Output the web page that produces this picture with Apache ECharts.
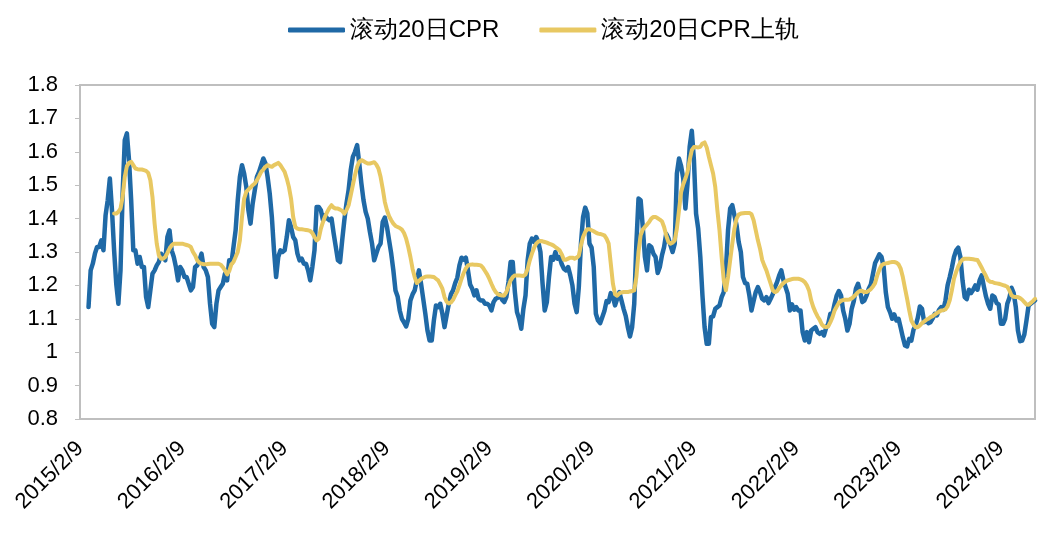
<!DOCTYPE html>
<html>
<head>
<meta charset="utf-8">
<script src="https://cdn.jsdelivr.net/npm/echarts@6/dist/echarts.min.js"></script>
<style>
html,body{margin:0;padding:0;background:#fff;}
#chart{width:1044px;height:534px;}
</style>
</head>
<body>
<div id="chart"></div>
<script>
// Tick labels shown on the x axis (yearly)
const tickLabels = ["2015/2/9","2016/2/9","2017/2/9","2018/2/9","2019/2/9","2020/2/9","2021/2/9","2022/2/9","2023/2/9","2024/2/9"];

// Weekly-ish category dates (2nd, 9th, 16th, 23rd of each month) from 2015/2/9 to 2024/6/9
const categoryDays = [2, 9, 16, 23];
const categories = [];
(function () {
  let y = 2015, m = 2, d = 1;
  while (categories.length < 449) {
    categories.push(y + "/" + m + "/" + categoryDays[d]);
    d++;
    if (d > 3) { d = 0; m++; if (m > 12) { m = 1; y++; } }
  }
})();

// 滚动20日CPR
const cprValues = [
null,null,null,null,1.135,1.245,1.265,1.295,1.315,1.315,
1.335,1.305,1.41,1.455,1.52,1.425,1.305,1.205,1.145,1.245,
1.475,1.635,1.655,1.575,1.455,1.305,1.305,1.265,1.285,1.255,
1.255,1.165,1.135,1.185,1.235,1.245,1.26,1.27,1.295,1.285,
1.275,1.345,1.365,1.305,1.285,1.255,1.215,1.255,1.245,1.225,
1.225,1.205,1.185,1.195,1.255,1.26,1.275,1.295,1.255,1.245,
1.225,1.145,1.085,1.075,1.145,1.185,1.195,1.205,1.235,1.215,
1.275,1.265,1.315,1.365,1.455,1.525,1.56,1.535,1.495,1.425,
1.385,1.445,1.485,1.525,1.54,1.56,1.58,1.565,1.525,1.475,
1.405,1.305,1.225,1.285,1.305,1.30,1.305,1.345,1.395,1.375,
1.345,1.335,1.295,1.275,1.28,1.265,1.265,1.245,1.215,1.255,
1.305,1.435,1.435,1.425,1.395,1.41,1.40,1.395,1.40,1.355,
1.315,1.275,1.27,1.335,1.395,1.445,1.485,1.545,1.585,1.60,
1.62,1.565,1.505,1.455,1.42,1.40,1.36,1.325,1.275,1.295,
1.315,1.325,1.39,1.403,1.375,1.335,1.295,1.245,1.185,1.167,
1.125,1.10,1.089,1.077,1.10,1.155,1.173,1.185,1.215,1.245,
1.205,1.16,1.115,1.065,1.035,1.035,1.095,1.14,1.135,1.145,
1.115,1.075,1.11,1.145,1.173,1.185,1.207,1.223,1.26,1.283,
1.277,1.283,1.245,1.203,1.19,1.17,1.185,1.16,1.155,1.155,
1.145,1.145,1.14,1.125,1.15,1.16,1.163,1.173,1.157,1.15,
1.165,1.21,1.27,1.27,1.18,1.12,1.10,1.07,1.13,1.17,
1.275,1.325,1.34,1.33,1.345,1.33,1.30,1.205,1.125,1.15,
1.225,1.285,1.277,1.30,1.28,1.285,1.263,1.25,1.245,1.255,
1.23,1.20,1.145,1.12,1.195,1.325,1.405,1.433,1.415,1.325,
1.313,1.255,1.115,1.095,1.087,1.105,1.123,1.153,1.15,1.177,
1.165,1.14,1.16,1.18,1.155,1.13,1.109,1.075,1.047,1.075,
1.145,1.325,1.46,1.455,1.375,1.285,1.245,1.32,1.315,1.295,
1.285,1.237,1.255,1.29,1.315,1.355,1.342,1.32,1.30,1.325,
1.535,1.58,1.557,1.52,1.43,1.505,1.615,1.663,1.575,1.415,
1.37,1.285,1.17,1.075,1.025,1.025,1.105,1.107,1.13,1.135,
1.14,1.165,1.18,1.245,1.365,1.43,1.44,1.41,1.38,1.33,
1.30,1.225,1.207,1.205,1.17,1.125,1.153,1.18,1.195,1.18,
1.16,1.155,1.165,1.147,1.16,1.174,1.195,1.21,1.23,1.245,
1.215,1.195,1.175,1.125,1.143,1.127,1.135,1.125,1.125,1.06,
1.035,1.06,1.03,1.065,1.07,1.075,1.06,1.055,1.06,1.05,
1.073,1.085,1.115,1.115,1.145,1.17,1.183,1.17,1.125,1.10,
1.065,1.085,1.13,1.153,1.19,1.205,1.18,1.15,1.155,1.17,
1.19,1.203,1.235,1.267,1.28,1.293,1.285,1.255,1.18,1.135,
1.12,1.10,1.113,1.095,1.10,1.073,1.045,1.02,1.017,1.04,
1.035,1.067,1.08,1.103,1.137,1.13,1.09,1.095,1.087,1.09,
1.101,1.115,1.11,1.127,1.135,1.127,1.155,1.20,1.225,1.253,
1.285,1.305,1.313,1.285,1.215,1.165,1.159,1.187,1.177,1.187,
1.20,1.187,1.215,1.23,1.197,1.167,1.145,1.13,1.17,1.165,
1.147,1.143,1.085,1.085,1.10,1.145,1.163,1.193,1.177,1.135,
1.065,1.033,1.035,1.053,1.095,1.14,1.145,1.15,1.155
];

// 滚动20日CPR上轨
const upperValues = [
null,null,null,null,null,null,null,null,null,null,
null,null,null,null,null,null,1.415,1.415,1.42,1.43,
1.465,1.525,1.557,1.567,1.57,1.56,1.55,1.548,1.547,1.547,
1.545,1.543,1.537,1.515,1.465,1.385,1.325,1.29,1.28,1.28,
1.285,1.297,1.31,1.32,1.325,1.325,1.325,1.325,1.325,1.323,
1.321,1.319,1.315,1.30,1.29,1.275,1.268,1.265,1.263,1.263,
1.264,1.265,1.265,1.265,1.265,1.265,1.262,1.255,1.245,1.233,
1.243,1.263,1.27,1.285,1.30,1.335,1.405,1.46,1.48,1.487,
1.493,1.50,1.505,1.515,1.527,1.54,1.547,1.555,1.56,1.557,
1.555,1.56,1.563,1.567,1.56,1.55,1.54,1.52,1.495,1.46,
1.405,1.375,1.37,1.368,1.368,1.367,1.366,1.365,1.363,1.357,
1.345,1.335,1.34,1.37,1.39,1.407,1.42,1.432,1.44,1.433,
1.43,1.43,1.427,1.423,1.415,1.425,1.44,1.47,1.50,1.53,
1.555,1.57,1.575,1.572,1.568,1.565,1.565,1.567,1.569,1.562,
1.55,1.525,1.49,1.45,1.425,1.407,1.395,1.385,1.378,1.375,
1.372,1.367,1.357,1.34,1.315,1.285,1.25,1.225,1.207,1.213,
1.219,1.223,1.226,1.227,1.227,1.226,1.225,1.22,1.215,1.203,
1.19,1.165,1.151,1.146,1.149,1.157,1.17,1.182,1.20,1.22,
1.237,1.251,1.26,1.262,1.263,1.262,1.262,1.261,1.26,1.253,
1.243,1.233,1.22,1.205,1.191,1.18,1.174,1.171,1.17,1.17,
1.18,1.197,1.215,1.225,1.23,1.23,1.23,1.229,1.228,1.233,
1.25,1.275,1.295,1.312,1.325,1.331,1.333,1.332,1.33,1.328,
1.325,1.323,1.32,1.315,1.31,1.305,1.293,1.277,1.277,1.28,
1.283,1.283,1.28,1.283,1.289,1.32,1.345,1.36,1.368,1.368,
1.365,1.362,1.358,1.355,1.354,1.352,1.35,1.34,1.325,1.265,
1.205,1.173,1.169,1.176,1.179,1.18,1.18,1.18,1.182,1.183,
1.185,1.225,1.30,1.35,1.367,1.375,1.382,1.39,1.40,1.405,
1.405,1.401,1.397,1.392,1.375,1.35,1.33,1.325,1.328,1.335,
1.37,1.425,1.48,1.503,1.52,1.54,1.575,1.605,1.614,1.614,
1.613,1.615,1.625,1.628,1.613,1.585,1.56,1.535,1.495,1.425,
1.365,1.285,1.215,1.185,1.225,1.275,1.325,1.37,1.40,1.412,
1.415,1.416,1.417,1.417,1.417,1.413,1.395,1.365,1.335,1.31,
1.277,1.26,1.245,1.225,1.205,1.185,1.18,1.183,1.192,1.20,
1.207,1.212,1.215,1.217,1.219,1.22,1.22,1.22,1.218,1.215,
1.21,1.20,1.185,1.155,1.135,1.12,1.107,1.097,1.083,1.077,
1.075,1.077,1.09,1.105,1.125,1.137,1.148,1.154,1.156,1.157,
1.157,1.158,1.161,1.167,1.173,1.18,1.184,1.183,1.18,1.18,
1.184,1.189,1.197,1.207,1.23,1.247,1.26,1.264,1.266,1.267,
1.269,1.27,1.27,1.268,1.263,1.25,1.225,1.192,1.16,1.125,
1.095,1.083,1.075,1.075,1.08,1.087,1.092,1.097,1.10,1.105,
1.108,1.113,1.117,1.121,1.125,1.126,1.128,1.137,1.155,1.185,
1.22,1.24,1.257,1.27,1.277,1.28,1.28,1.28,1.279,1.278,
1.277,1.276,1.265,1.253,1.24,1.228,1.215,1.211,1.21,1.207,
1.206,1.205,1.203,1.201,1.199,1.196,1.185,1.17,1.166,1.165,
1.165,1.162,1.157,1.15,1.143,1.142,1.147,1.153,1.16
];

const seriesNames = ["滚动20日CPR","滚动20日CPR上轨"];
const colors = ["#1f69a6","#e8c862"];
const FONT = "'Liberation Sans', Arial, sans-serif";

const chart = echarts.init(document.getElementById('chart'));
chart.setOption({
  animation: false,
  backgroundColor: '#ffffff',
  legend: {
    top: 13,
    left: 283,
    itemGap: 40,
    itemWidth: 57,
    itemHeight: 5,
    icon: 'roundRect',
    textStyle: { fontFamily: FONT, fontSize: 24, color: '#000' },
    data: seriesNames
  },
  grid: { left: 80, right: 9, top: 85, bottom: 115, show: true, borderColor: '#bfbfbf', borderWidth: 2, backgroundColor: 'transparent' },
  xAxis: {
    type: 'category',
    data: categories,
    boundaryGap: false,
    axisLine: { show: true, lineStyle: { color: '#bfbfbf', width: 2 } },
    axisTick: { show: false },
    axisLabel: {
      rotate: 45,
      margin: 26,
      fontFamily: FONT,
      fontSize: 22,
      color: '#000',
      interval: function (idx, val) { return tickLabels.indexOf(val) >= 0; }
    },
    splitLine: { show: false }
  },
  yAxis: {
    type: 'value',
    min: 0.8,
    max: 1.8,
    interval: 0.1,
    axisLine: { show: true, lineStyle: { color: '#bfbfbf', width: 2 } },
    axisTick: { show: true, inside: false, length: 5, lineStyle: { color: '#bfbfbf', width: 1 } },
    axisLabel: {
      margin: 22,
      fontFamily: FONT,
      fontSize: 22,
      color: '#000',
      formatter: function (v) { return String(parseFloat(v.toFixed(1))); }
    },
    splitLine: { show: false }
  },
  series: [
    {
      name: seriesNames[0], type: 'line', data: cprValues,
      showSymbol: false, symbol: 'none', connectNulls: false,
      lineStyle: { color: colors[0], width: 4.5, join: 'round', cap: 'round' },
      itemStyle: { color: colors[0] }, z: 2
    },
    {
      name: seriesNames[1], type: 'line', data: upperValues,
      showSymbol: false, symbol: 'none', connectNulls: false,
      lineStyle: { color: colors[1], width: 4, join: 'round', cap: 'round' },
      itemStyle: { color: colors[1] }, z: 3
    }
  ]
});
</script>
</body>
</html>
